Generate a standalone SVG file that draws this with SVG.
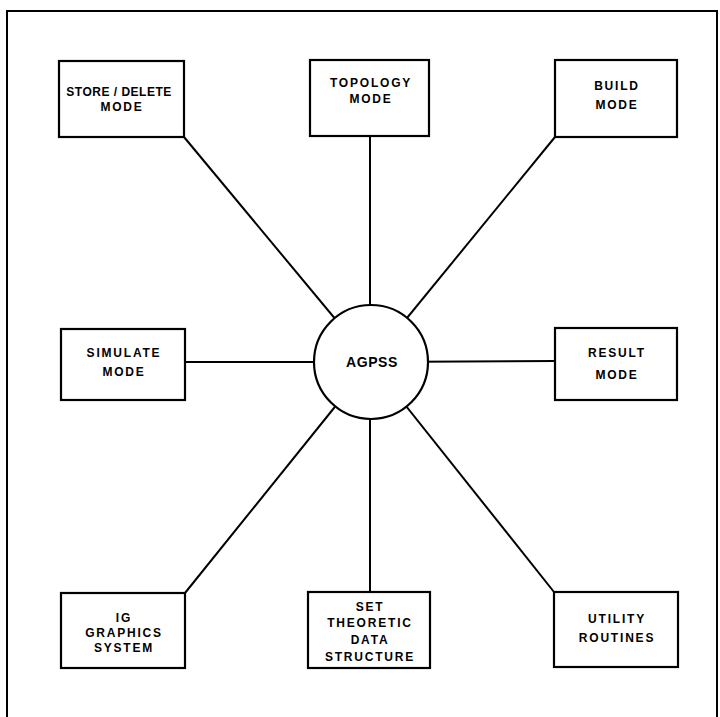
<svg xmlns="http://www.w3.org/2000/svg" width="720" height="717" viewBox="0 0 720 717">
<style>
.box{fill:#fff;stroke:#000;stroke-width:2.2}
.lbl{font-family:"Liberation Sans",Arial,sans-serif;font-weight:bold;font-size:12px;letter-spacing:1.8px;text-anchor:middle;fill:#000}
.hub{font-family:"Liberation Sans",Arial,sans-serif;font-weight:bold;font-size:14px;letter-spacing:0.6px;text-anchor:middle;fill:#000}
.conn line{stroke:#000;stroke-width:2}
</style>
<rect width="720" height="717" fill="#fff"/>
<path d="M7,717 V11 H717 V717" fill="none" stroke="#000" stroke-width="2"/>
<g id="connectors" class="conn">
<line x1="184" y1="137" x2="371" y2="362"/>
<line x1="370" y1="136" x2="370" y2="362"/>
<line x1="555" y1="137" x2="371" y2="362"/>
<line x1="185" y1="362" x2="371" y2="362"/>
<line x1="555" y1="361" x2="371" y2="362"/>
<line x1="185" y1="593" x2="371" y2="362"/>
<line x1="370" y1="592" x2="370" y2="362"/>
<line x1="554" y1="592" x2="371" y2="362"/>
</g>
<g id="agpss">
<circle cx="371" cy="362" r="57" class="box"/>
<text x="372" y="367" class="hub">AGPSS</text>
</g>
<g id="store-delete">
<rect x="59" y="61" width="125" height="76" class="box"/>
<text x="119" y="96" class="lbl" style="letter-spacing:0.5px">STORE / DELETE</text>
<text x="122" y="111" class="lbl">MODE</text>
</g>
<g id="topology">
<rect x="310" y="60" width="119" height="76" class="box"/>
<text x="371" y="87" class="lbl">TOPOLOGY</text>
<text x="371" y="103" class="lbl">MODE</text>
</g>
<g id="build">
<rect x="555" y="60" width="122" height="77" class="box"/>
<text x="617" y="90" class="lbl">BUILD</text>
<text x="617" y="109" class="lbl">MODE</text>
</g>
<g id="simulate">
<rect x="61" y="329" width="124" height="71" class="box"/>
<text x="124" y="357" class="lbl">SIMULATE</text>
<text x="124" y="376" class="lbl">MODE</text>
</g>
<g id="result">
<rect x="555" y="328" width="122" height="72" class="box"/>
<text x="617" y="357" class="lbl">RESULT</text>
<text x="617" y="379" class="lbl">MODE</text>
</g>
<g id="ig-graphics">
<rect x="61" y="593" width="124" height="75" class="box"/>
<text x="124" y="622" class="lbl">IG</text>
<text x="124" y="637" class="lbl">GRAPHICS</text>
<text x="124" y="652" class="lbl">SYSTEM</text>
</g>
<g id="set-theoretic">
<rect x="308" y="592" width="122" height="76" class="box"/>
<text x="370" y="611" class="lbl">SET</text>
<text x="370" y="627" class="lbl">THEORETIC</text>
<text x="370" y="644" class="lbl">DATA</text>
<text x="370" y="661" class="lbl">STRUCTURE</text>
</g>
<g id="utility">
<rect x="554" y="592" width="124" height="75" class="box"/>
<text x="617" y="623" class="lbl">UTILITY</text>
<text x="617" y="642" class="lbl">ROUTINES</text>
</g>
</svg>
